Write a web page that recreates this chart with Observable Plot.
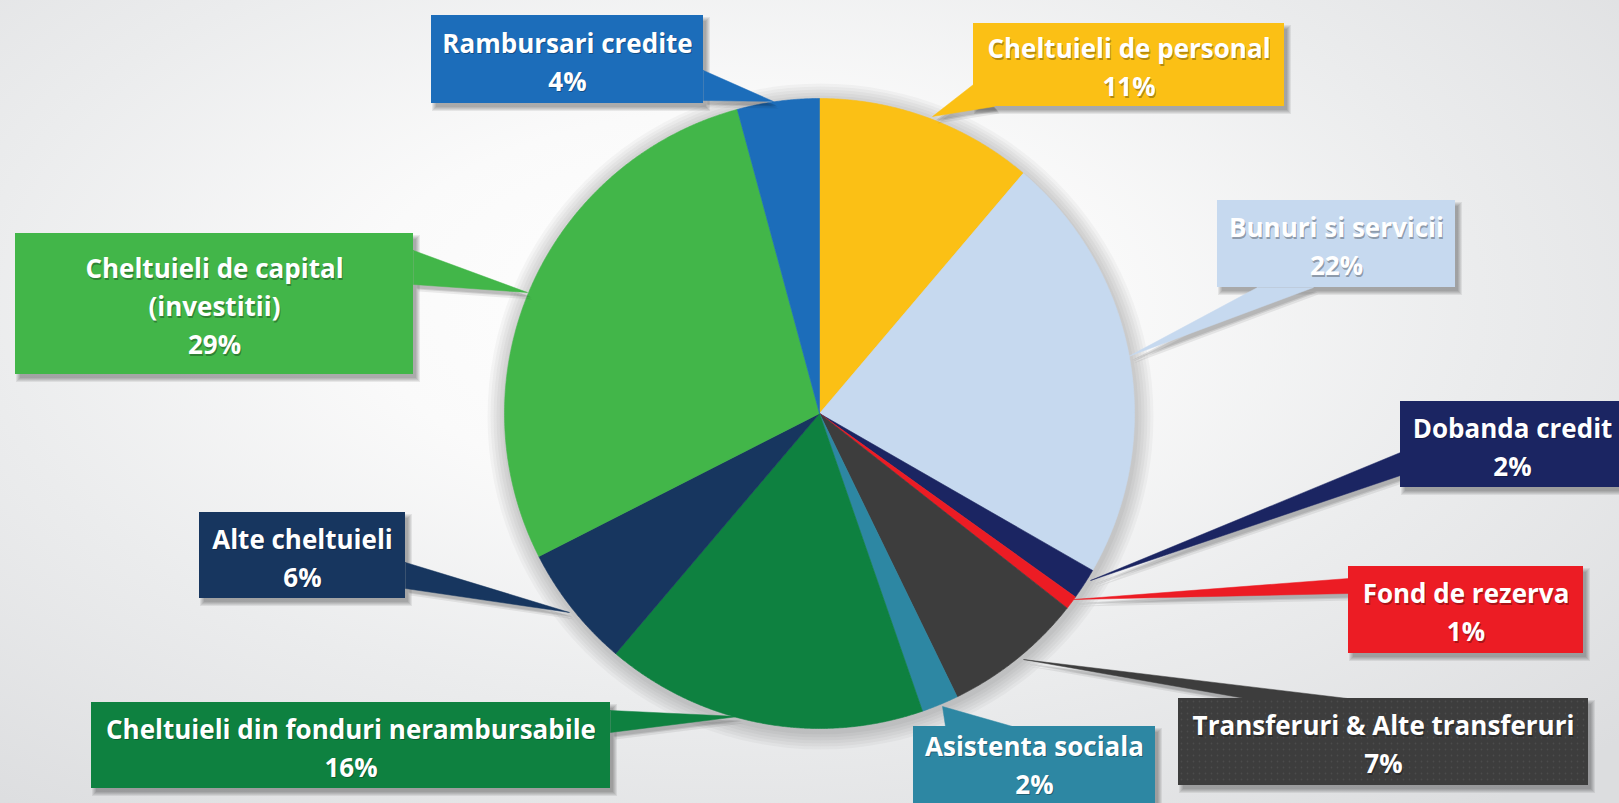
<!DOCTYPE html>
<html>
<head>
<meta charset="utf-8">
<script src="https://cdn.jsdelivr.net/npm/d3@7"></script>
<script src="https://cdn.jsdelivr.net/npm/@observablehq/plot@0.6"></script>
<style>
  html, body { margin: 0; padding: 0; overflow: hidden; }
  body {
    width: 1619px; height: 803px;
    background: radial-gradient(ellipse 75% 80% at 45% 38%, #ffffff 0%, #fafafa 30%, #ebeced 62%, #dcdddf 100%);
  }
  #chart svg { display: block; }
</style>
</head>
<body>
<div id="chart"></div>
<script>
// ---- data (clockwise from 12 o'clock) ----
const categories = [
  "Cheltuieli de personal",
  "Bunuri si servicii",
  "Dobanda credit",
  "Fond de rezerva",
  "Transferuri & Alte transferuri",
  "Asistenta sociala",
  "Cheltuieli din fonduri nerambursabile",
  "Alte cheltuieli",
  "Cheltuieli de capital (investitii)",
  "Rambursari credite"
];
// slice sizes (%)
const shares = [11.2, 22.1, 1.6, 0.7, 7.2, 1.9, 16.5, 6.3, 28.3, 4.2];
// percentages printed in the labels
const percentLabels = ["11%", "22%", "2%", "1%", "7%", "2%", "16%", "6%", "29%", "4%"];
const labelNames = [
  "Cheltuieli de personal",
  "Bunuri si servicii",
  "Dobanda credit",
  "Fond de rezerva",
  "Transferuri & Alte transferuri",
  "Asistenta sociala",
  "Cheltuieli din fonduri nerambursabile",
  "Alte cheltuieli",
  "Cheltuieli de capital\n(investitii)",
  "Rambursari credite"
];
const colors = ["#fbc015", "#c6d9ef", "#1b2562", "#ec1c24", "#3d3d3d", "#2d87a3", "#0e8140", "#17365f", "#42b649", "#1c6dba"];

// ---- layout (pixels) ----
const W = 1619, H = 803;
const center = [819, 413], R = 315;
const callouts = [
  {box: [973, 23, 1284, 106],  base: [[973, 84], [994, 106]],  tip: [932, 116]},
  {box: [1217, 200, 1455, 287], base: [[1257, 287], [1313, 287]], tip: [1128, 356]},
  {box: [1400, 401, 1624, 487], base: [[1400, 452], [1400, 475]], tip: [1090, 580]},
  {box: [1348, 566, 1583, 653], base: [[1348, 578], [1348, 593]], tip: [1073, 599]},
  {box: [1178, 698, 1588, 785], base: [[1245, 698], [1347, 698]], tip: [1023, 659]},
  {box: [913, 726, 1155, 810],  base: [[945, 726], [1012, 726]],  tip: [942, 706]},
  {box: [91, 702, 610, 788],    base: [[610, 710], [610, 732]],   tip: [738, 716]},
  {box: [199, 512, 405, 598],   base: [[405, 562], [405, 588]],   tip: [569, 612]},
  {box: [15, 233, 413, 374],    base: [[413, 250], [413, 284]],   tip: [527, 292]},
  {box: [431, 15, 703, 103],    base: [[703, 70], [703, 100]],    tip: [773, 101]}
];
// vertical nudge of the text block inside each box
const textShift = [0, 0, 0, 0, 0, -6, 0, 0, 0, 0];
const shadowOffset = [4, 5];

// ---- slice polygons from the data ----
const arcs = d3.pie().sort(null).value(d => d.v).startAngle(0).endAngle(2 * Math.PI)(
  categories.map((c, i) => ({key: c, v: shares[i], color: colors[i]}))
);
const sliceMarks = arcs.map(a => {
  const pts = [{x: center[0], y: center[1]}];
  const n = Math.max(2, Math.ceil((a.endAngle - a.startAngle) / 0.005));
  for (let j = 0; j <= n; j++) {
    const t = a.startAngle + (a.endAngle - a.startAngle) * j / n;
    pts.push({x: center[0] + R * Math.sin(t), y: center[1] - R * Math.cos(t)});
  }
  pts.push({x: center[0], y: center[1]});
  return Plot.line(pts, {x: "x", y: "y", fill: a.data.color, stroke: a.data.color, strokeWidth: 0.6});
});

// soft halo / shadow behind the pie
const pieShadowMarks = [3, 6, 9, 12, 15, 18].map(k =>
  Plot.dot([center], {x: d => d[0] + 1, y: d => d[1] + 3, r: R + k, fill: "black", fillOpacity: 0.03, stroke: "none"})
);

// ---- callouts ----
const pointerMarks = [];
const pointerShadowMarks = [];
const labelRows = [];
const boxShadowRows = [];
callouts.forEach((c, i) => {
  const [x1, y1, x2, y2] = c.box;
  const ptr = [c.base[0], c.tip, c.base[1], c.base[0]];
  pointerMarks.push(Plot.line(ptr.map(p => ({x: p[0], y: p[1]})),
    {x: "x", y: "y", fill: colors[i], stroke: colors[i], strokeWidth: 0.5, strokeLinejoin: "miter"}));
  [[3, 4, 0.10], [4, 5, 0.10], [5, 7, 0.07]].forEach(([dx, dy, op]) =>
    pointerShadowMarks.push(Plot.line(ptr.map(p => ({x: p[0] + dx, y: p[1] + dy})),
      {x: "x", y: "y", fill: "black", fillOpacity: op, stroke: "none"})));
  labelRows.push({x1, x2, y1, y2, cx: (x1 + x2) / 2, cy: (y1 + y2) / 2 + textShift[i], text: labelNames[i] + "\n" + percentLabels[i], color: colors[i]});
  [-1, 0, 1, 2, 3].forEach(s => boxShadowRows.push({
    x1: x1 + shadowOffset[0] - s, x2: x2 + shadowOffset[0] + s,
    y1: y1 + shadowOffset[1] - s, y2: y2 + shadowOffset[1] + s
  }));
});

// carbon texture dots for the "Transferuri" box
const tb = callouts[4].box;
const carbonDots = [];
for (let x = tb[0] + 3; x < tb[2]; x += 6) for (let y = tb[1] + 3; y < tb[3]; y += 6) carbonDots.push({x, y});

const chart = Plot.plot({
  width: W,
  height: H,
  margin: 0,
  x: {domain: [0, W], range: [0, W], axis: null},
  y: {domain: [0, H], range: [0, H], axis: null},
  style: {background: "transparent", fontFamily: "'Open Sans', sans-serif"},
  marks: [
    ...pieShadowMarks,
    ...sliceMarks,
    Plot.rect(boxShadowRows, {x1: "x1", y1: "y1", x2: "x2", y2: "y2", fill: "black", fillOpacity: 0.07}),
    ...pointerShadowMarks,
    ...pointerMarks,
    Plot.rect(labelRows, {x1: "x1", y1: "y1", x2: "x2", y2: "y2", fill: d => d.color}),
    Plot.dot(carbonDots, {x: "x", y: "y", r: 0.9, fill: "white", fillOpacity: 0.08, stroke: "none"}),
    Plot.text(labelRows, {
      x: "cx", y: "cy", text: "text", fill: "black", fillOpacity: 0.3, dx: 1, dy: 1.5,
      fontSize: 26, fontWeight: "bold", fontFamily: "'Open Sans', sans-serif", lineHeight: 1.46
    }),
    Plot.text(labelRows, {
      x: "cx", y: "cy", text: "text", fill: "white",
      fontSize: 26, fontWeight: "bold", fontFamily: "'Open Sans', sans-serif", lineHeight: 1.46
    })
  ]
});

document.getElementById("chart").appendChild(chart);
</script>
</body>
</html>
